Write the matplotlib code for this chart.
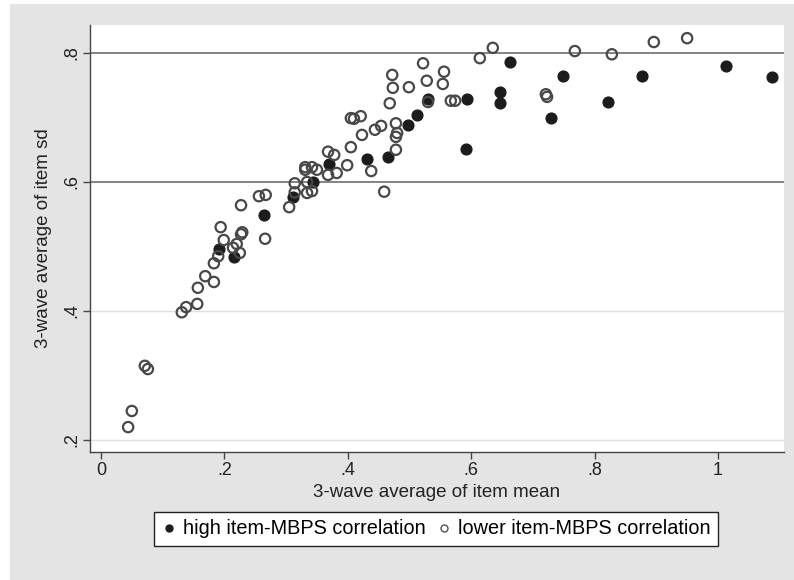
import matplotlib.pyplot as plt
from matplotlib.patches import Rectangle
from matplotlib.lines import Line2D

plt.rcParams['font.family'] = ['Liberation Sans', 'DejaVu Sans']

# high item-MBPS correlation (filled)
high_x = [0.191, 0.215, 0.264, 0.311, 0.344, 0.370, 0.431, 0.465, 0.498, 0.512,
          0.530, 0.593, 0.592, 0.647, 0.647, 0.663, 0.729, 0.749, 0.822, 0.877,
          1.013, 1.088]
high_y = [0.496, 0.484, 0.549, 0.577, 0.600, 0.628, 0.636, 0.639, 0.688, 0.704,
          0.729, 0.729, 0.651, 0.740, 0.722, 0.786, 0.699, 0.764, 0.724, 0.764,
          0.780, 0.763]

# lower item-MBPS correlation (hollow)
low_x = [0.044, 0.050, 0.071, 0.076, 0.131, 0.138, 0.156, 0.157, 0.169, 0.183,
         0.183, 0.190, 0.199, 0.194, 0.214, 0.225, 0.220, 0.227, 0.229, 0.227,
         0.266, 0.256, 0.267, 0.305, 0.314, 0.314, 0.334, 0.342, 0.334, 0.331,
         0.331, 0.342, 0.350, 0.368, 0.378, 0.368, 0.382, 0.399, 0.405, 0.405,
         0.410, 0.421, 0.423, 0.438, 0.444, 0.454, 0.459, 0.468, 0.472, 0.473,
         0.478, 0.480, 0.478, 0.478, 0.499, 0.522, 0.528, 0.530, 0.554, 0.556,
         0.567, 0.574, 0.614, 0.635, 0.721, 0.723, 0.768, 0.828, 0.896, 0.950]
low_y = [0.220, 0.245, 0.315, 0.310, 0.398, 0.406, 0.411, 0.436, 0.454, 0.445,
         0.474, 0.485, 0.510, 0.530, 0.498, 0.490, 0.504, 0.519, 0.522, 0.564,
         0.512, 0.578, 0.580, 0.561, 0.598, 0.584, 0.583, 0.586, 0.600, 0.619,
         0.623, 0.623, 0.619, 0.647, 0.642, 0.611, 0.614, 0.626, 0.654, 0.699,
         0.698, 0.702, 0.673, 0.617, 0.681, 0.687, 0.585, 0.722, 0.766, 0.746,
         0.691, 0.676, 0.670, 0.650, 0.747, 0.784, 0.757, 0.724, 0.752, 0.771,
         0.726, 0.726, 0.792, 0.808, 0.736, 0.732, 0.803, 0.798, 0.817, 0.823]

x_ticks = [0, 0.2, 0.4, 0.6, 0.8, 1.0]
x_labels = ['0', '.2', '.4', '.6', '.8', '1']
y_ticks = [0.2, 0.4, 0.6, 0.8]
y_labels = ['.2', '.4', '.6', '.8']

fig = plt.figure(figsize=(7.94, 5.80), dpi=100, facecolor='white')
fig.patches.append(Rectangle((10 / 794, 0), 1, 1 - 4 / 580, transform=fig.transFigure,
                             facecolor='#e4e4e4', edgecolor='none', zorder=-10))

ax = fig.add_axes([90 / 794, 1 - 452 / 580, 694 / 794, 427 / 580])
ax.set_facecolor('white')
ax.set_xlim(-0.0178, 1.107)
ax.set_ylim(0.1814, 0.8434)

# horizontal grid: two strong, two faint
for v in y_ticks:
    if v >= 0.6:
        ax.axhline(v, color='#7a7a7a', lw=1.3, zorder=1)
    else:
        ax.axhline(v, color='#e2e2e2', lw=1.0, zorder=1)

ax.scatter(high_x, high_y, s=60, c='#1c1c1c', edgecolors='#1c1c1c', linewidths=1, zorder=3)
ax.scatter(low_x, low_y, s=55, facecolors='none', edgecolors='#484848', linewidths=1.6, zorder=4)

for side in ['top', 'right']:
    ax.spines[side].set_visible(False)
for side in ['left', 'bottom']:
    ax.spines[side].set_color('#444444')
    ax.spines[side].set_linewidth(1.0)

ax.set_xticks(x_ticks)
ax.set_xticklabels(x_labels, fontsize=13, color='#222222')
ax.set_yticks(y_ticks)
ax.set_yticklabels(y_labels, fontsize=13, color='#222222', rotation=90, va='center')
ax.tick_params(axis='both', direction='out', length=5, width=1, color='#444444', pad=2)

ax.set_xlabel('3-wave average of item mean', fontsize=13.5, color='#222222', labelpad=4)
ax.set_ylabel('3-wave average of item sd', fontsize=13.5, color='#222222', labelpad=8)

handles = [
    Line2D([], [], marker='o', ls='none', markersize=5, markerfacecolor='#1c1c1c',
           markeredgecolor='#1c1c1c', label='high item-MBPS correlation'),
    Line2D([], [], marker='o', ls='none', markersize=5, markerfacecolor='none',
           markeredgecolor='#505050', label='lower item-MBPS correlation'),
]
leg = fig.legend(handles=handles, loc='center', bbox_to_anchor=(436 / 794, 1 - 529 / 580),
                 ncol=2, frameon=True, fancybox=False, edgecolor='#222222', fontsize=14.3,
                 facecolor='white', framealpha=1,
                 handletextpad=0.3, columnspacing=0.5, handlelength=0.8, borderpad=0.4,
                 borderaxespad=0.2)
leg.get_frame().set_linewidth(1.0)

fig.savefig('out.png', dpi=100, facecolor=fig.get_facecolor())
